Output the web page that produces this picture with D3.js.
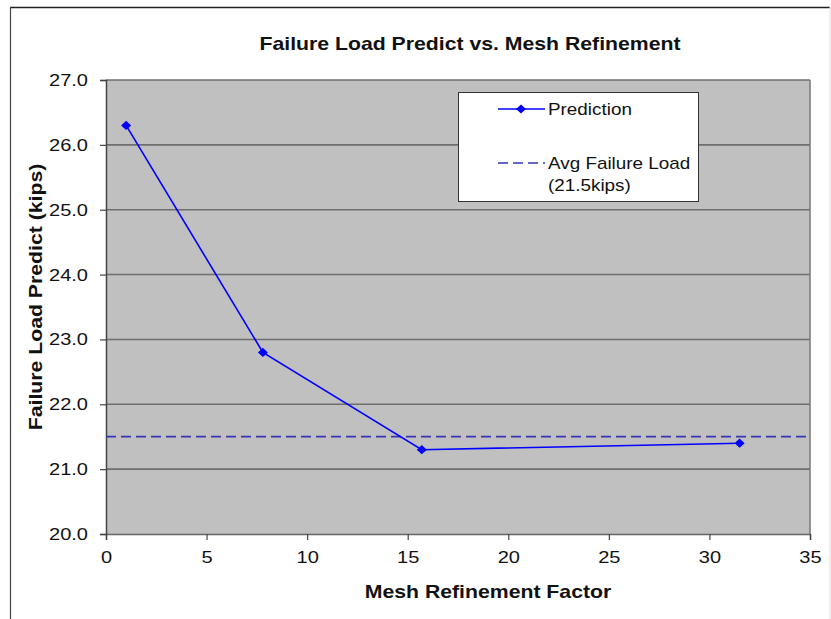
<!DOCTYPE html>
<html><head><meta charset="utf-8">
<script src="https://cdn.jsdelivr.net/npm/d3@7"></script>
<style>body{margin:0;background:#fff;} text{font-family:"Liberation Sans",Arial,sans-serif;}</style>
</head><body><svg id="c" width="831" height="619"></svg>
<script>
const meshFactor = [1, 7.8, 15.7, 31.5];
const prediction = [26.3, 22.8, 21.3, 21.4];
const avgFailureLoad = 21.5;
const xTicks = [0, 5, 10, 15, 20, 25, 30, 35];
const yTicks = [20, 21, 22, 23, 24, 25, 26, 27];

const SX = 1.18; // horizontal stretch of the reference's text
const svg = d3.select("#c");
const W = 831, H = 619;
svg.append("rect").attr("width", W).attr("height", H).attr("fill", "#fff");
svg.append("line").attr("x1",10).attr("x2",830).attr("y1",7.5).attr("y2",7.5).attr("stroke","#222").attr("stroke-width",1.5);
svg.append("line").attr("x1",10.5).attr("x2",10.5).attr("y1",7).attr("y2",619).attr("stroke","#444").attr("stroke-width",1.2);
svg.append("line").attr("x1",830).attr("x2",830).attr("y1",7).attr("y2",619).attr("stroke","#ddd").attr("stroke-width",1);

function label(g, x0, y0, txt, opts) {
  const o = Object.assign({size: 17, bold: false, anchor: "start", rotate: 0}, opts || {});
  return g.append("text")
    .attr("transform", `translate(${x0},${y0}) rotate(${o.rotate}) scale(${SX},1)`)
    .attr("text-anchor", o.anchor).attr("font-size", o.size)
    .attr("font-weight", o.bold ? "bold" : "normal").attr("fill", "#111").text(txt);
}

const x = d3.scaleLinear().domain([0, 35]).range([106, 810]);
const y = d3.scaleLinear().domain([20, 27]).range([534, 80]);

svg.append("rect").attr("x", x(0)).attr("y", y(27)).attr("width", x(35)-x(0)).attr("height", y(20)-y(27)).attr("fill", "#c0c0c0");
svg.append("g").selectAll("line").data(yTicks.filter(d => d > 20)).join("line")
  .attr("x1", x(0)).attr("x2", x(35)).attr("y1", d => y(d)).attr("y2", d => y(d))
  .attr("stroke", "#6e6e6e").attr("stroke-width", 1.6);
svg.append("line").attr("x1", x(35)).attr("x2", x(35)).attr("y1", y(27)).attr("y2", y(20)).attr("stroke", "#777").attr("stroke-width", 1.5);

const xAxis = svg.append("g").attr("transform", `translate(0,${y(20)})`)
  .call(d3.axisBottom(x).tickValues(xTicks).tickFormat(d3.format("d")).tickSize(6).tickPadding(11));
const yAxis = svg.append("g").attr("transform", `translate(${x(0)},0)`)
  .call(d3.axisLeft(y).tickValues(yTicks).tickFormat(d3.format(".1f")).tickSize(6).tickPadding(12));
[xAxis, yAxis].forEach(a => {
  a.select(".domain").attr("stroke", "#444").attr("stroke-width", 1.5);
  a.selectAll(".tick line").attr("stroke", "#444").attr("stroke-width", 1.2);
  a.selectAll("text").attr("font-size", 17).attr("fill", "#111");
});
xAxis.select(".domain").attr("stroke", "#666");
// stretch tick labels horizontally about their anchor
xAxis.selectAll(".tick text").attr("transform", `scale(${SX},1)`);
yAxis.selectAll(".tick text").each(function() {
  const t = d3.select(this); const tx = +t.attr("x");
  t.attr("x", tx / SX).attr("transform", `scale(${SX},1)`);
});

svg.append("line").attr("x1", x(0)).attr("x2", x(35)).attr("y1", y(avgFailureLoad)).attr("y2", y(avgFailureLoad))
  .attr("stroke", "#3535b5").attr("stroke-width", 1.7).attr("stroke-dasharray", "10,5");

const pts = meshFactor.map((m, i) => [m, prediction[i]]);
svg.append("path").datum(pts).attr("fill", "none").attr("stroke", "#0000ff").attr("stroke-width", 1.6)
  .attr("d", d3.line().x(d => x(d[0])).y(d => y(d[1])));
const diamond = "M0,-4.6L5,0L0,4.6L-5,0Z";
svg.append("g").selectAll("path").data(pts).join("path")
  .attr("transform", d => `translate(${x(d[0])},${y(d[1])})`).attr("d", diamond).attr("fill", "#0000ff");

label(svg, 470, 50, "Failure Load Predict vs. Mesh Refinement", {size: 18, bold: true, anchor: "middle"});
label(svg, 488, 598, "Mesh Refinement Factor", {size: 18, bold: true, anchor: "middle"});
label(svg, 42, 297, "Failure Load Predict (kips)", {size: 18, bold: true, anchor: "middle", rotate: -90});

const lg = svg.append("g");
lg.append("rect").attr("x", 458.5).attr("y", 92.5).attr("width", 240).attr("height", 109).attr("fill", "#fff").attr("stroke", "#333").attr("stroke-width", 1);
lg.append("line").attr("x1", 498).attr("x2", 545).attr("y1", 109).attr("y2", 109).attr("stroke", "#0000ff").attr("stroke-width", 1.6);
lg.append("path").attr("transform", "translate(521,109)").attr("d", diamond).attr("fill", "#0000ff");
label(lg, 548, 115, "Prediction", {size: 16});
lg.append("line").attr("x1", 498).attr("x2", 545).attr("y1", 163).attr("y2", 163).attr("stroke", "#3535b5").attr("stroke-width", 1.7).attr("stroke-dasharray", "10,5");
label(lg, 548, 169, "Avg Failure Load", {size: 16});
label(lg, 548, 191, "(21.5kips)", {size: 16});
</script></body></html>
